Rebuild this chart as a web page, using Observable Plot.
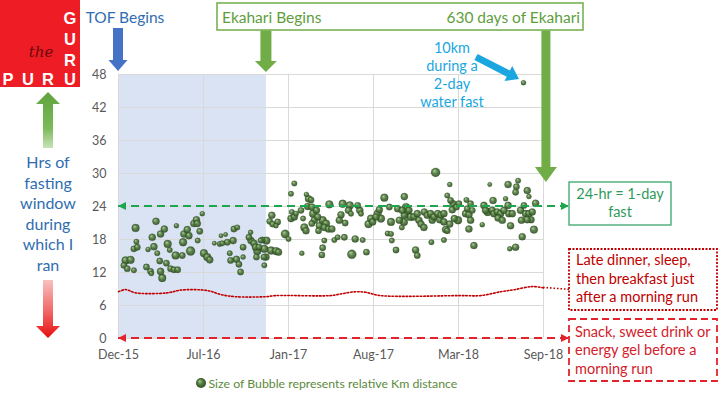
<!DOCTYPE html>
<html><head><meta charset="utf-8">
<script src="https://cdn.jsdelivr.net/npm/d3@7"></script>
<script src="https://cdn.jsdelivr.net/npm/@observablehq/plot@0.6"></script>
<style>
body{margin:0;background:#fff;}
#chart{width:723px;height:396px;}
</style></head><body><div id="chart"></div>
<script>
// ---- data ----
const startDate = "2015-12-10";            // day 0 of runDay / baseDay
const tickDates = ["2015-12-10","2016-07-01","2017-01-21","2017-08-13","2018-03-05","2018-09-25"];
const yTicks = [0,6,12,18,24,30,36,42,48];
const tofBeginDate = "2015-12-10";
const ekahariBeginDate = "2016-11-29";
const ekahari630Date = "2018-10-02";

// runs: days since startDate, hours of fasting window, km (bubble size)
const runDay = [17,29,13,21,37,41,43,37,45,67,77,79,71,81,85,90,101,93,99,101,105,110,118,123,115,125,133,142,139,137,157,155,153,165,169,173,181,187,189,195,190,201,205,213,219,230,243,246,257,249,261,269,267,275,277,285,283,289,293,299,299,317,313,318,325,329,333,337,341,331,349,350,345,355,
350,354,366,378,384,368,363,370,382,378,400,408,414,422,422,414,416,426,440,438,443,446,450,451,456,462,454,464,467,470,464,475,478,482,480,490,494,498,506,504,512,494,490,488,518,526,530,534,538,544,542,555,552,558,574,579,582,560,568,586,595,600,606,610,622,626,630,618,638,650,646,654,656,654,666,670,674,680,686,690,686,
761,681,693,697,701,685,709,717,721,726,733,734,741,749,753,757,766,771,774,781,781,785,789,795,797,803,801,806,795,815,789,781,751,713,717,811,817,835,837,833,841,845,849,845,841,853,873,877,881,886,891,899,897,901,909,917,911,921,925,929,935,941,937,935,945,955,959,953,965,967,969,953,939,973,981,985,977,985,990,981,993,1001,997,972];
const runHours = [14.2,14.3,13.3,12.7,12.4,20.1,17.6,16.3,16.6,13.0,12.2,11.8,16.2,18.4,16.7,21.3,19.0,15.5,14.1,12.2,11.0,19.9,17.2,16.1,13.7,12.7,12.5,12.5,20.5,15.1,19.0,17.5,15.1,19.8,18.7,15.9,20.9,21.6,20.9,19.5,17.8,22.7,15.5,14.8,14.3,17.3,17.2,18.7,18.9,17.3,17.5,14.2,15.5,17.8,19.9,20.2,14.4,13.5,12.1,16.6,14.8,19.3,18.4,17.8,17.3,16.6,15.9,16.6,17.8,14.8,14.8,13.3,17.9,17.8,
16.3,14.8,16.0,15.9,15.7,22.4,21.3,20.8,21.2,20.5,19.0,18.1,21.8,22.1,28.2,26.3,23.0,22.7,15.5,23.3,21.8,20.2,19.6,26.2,25.4,25.2,24.0,23.9,22.7,21.5,20.9,23.3,22.1,20.5,19.6,21.5,20.2,20.9,24.4,19.9,19.9,17.8,16.5,15.2,17.9,18.4,21.5,22.5,24.5,21.0,18.4,24.2,23.3,22.7,24.2,23.3,22.7,15.3,18.1,17.9,15.7,20.8,21.8,21.2,22.7,23.4,21.8,22.1,25.6,23.9,19.1,19.0,17.8,21.2,16.1,23.6,21.5,20.2,25.8,23.9,22.4,
30.2,23.3,22.7,23.3,22.1,21.2,22.1,22.7,21.5,20.8,20.2,23.0,22.4,22.7,21.5,22.1,22.7,21.6,22.4,22.7,21.2,19.8,26.0,28.0,25.1,24.5,23.4,21.8,20.8,21.5,19.6,17.9,17.5,16.1,15.1,23.9,24.5,25.2,23.6,22.7,22.5,24.5,23.3,21.5,19.9,16.9,20.7,24.2,23.3,23.0,28.0,25.1,23.3,22.7,23.0,22.7,21.9,21.5,23.3,25.4,28.0,20.5,22.7,24.2,22.7,27.6,28.7,26.6,23.3,21.5,18.5,16.6,16.3,24.2,26.9,25.8,22.7,22.7,21.6,21.6,23.0,24.6,19.8,46.5];
const runKm = [12,12,8,8,6,12,6,8,8,8,8,5,5,10,10,10,10,6,8,10,12,10,12,6,8,8,8,8,5,12,10,12,8,10,10,16,10,10,10,8,6,5,12,12,10,4,6,4,4,6,8,8,6,10,8,6,10,8,8,8,5,5,8,10,10,10,12,8,6,8,8,6,8,12,
12,10,12,12,10,10,8,8,8,5,14,6,10,10,6,6,6,6,5,8,6,12,10,5,10,8,10,10,12,10,8,10,10,10,8,12,10,12,12,10,10,6,8,8,6,6,10,10,12,8,8,12,10,6,8,10,6,16,10,6,8,12,12,10,12,10,12,10,12,8,6,6,6,12,8,10,10,6,10,12,10,
16,10,12,10,12,12,10,10,10,10,10,10,10,10,10,10,10,10,10,10,10,10,6,5,8,10,10,10,10,12,8,6,6,10,8,8,8,6,8,10,10,8,8,10,10,10,5,10,10,12,4,10,10,10,10,10,10,10,10,5,10,10,10,10,10,8,6,8,10,10,10,10,5,8,10,5,10,10,10,10,10,10,12,5];

// dotted red baseline (late dinner -> breakfast after run)
const baseDay = [0,17,41,101,125,149,197,221,245,281,353,377,509,533,569,593,629,821,869,917,948,994,1020];
const baseHours = [8.5,8.9,8.3,8.2,8.4,8.8,8.85,8.6,8.0,7.6,7.6,7.8,7.8,8.1,8.5,8.4,7.8,7.8,7.8,8.5,8.85,9.45,9.2];

// ---- build ----
const parse = d3.utcParse("%Y-%m-%d");
const t0 = parse(startDate);
const dayToDate = d => d3.utcDay.offset(t0, d);
const runs = runDay.map((d, i) => ({date: dayToDate(d), hours: runHours[i], km: runKm[i]}));
const base = baseDay.map((d, i) => ({date: dayToDate(d), hours: baseHours[i]}));

const chart = Plot.plot({
  width: 723, height: 396,
  marginLeft: 118, marginRight: 180, marginTop: 74, marginBottom: 58,
  style: {fontFamily: "Lato, sans-serif", fontSize: "12.5px", color: "#595959", background: "#fff", overflow: "visible"},
  x: {type: "utc", domain: [parse(tickDates[0]), parse(tickDates[tickDates.length-1])], ticks: tickDates.map(parse),
      tickFormat: d3.utcFormat("%b-%y"), label: null, tickSize: 0, tickPadding: 12},
  y: {domain: [0, 48], ticks: yTicks, label: null, tickSize: 0, tickPadding: 12},
  r: {type: "sqrt", domain: [0, 16], range: [0, 4.5]},
  marks: [
    Plot.rect([{a: parse(tofBeginDate), b: parse(ekahariBeginDate)}], {x1: "a", x2: "b", y1: 0, y2: 48, fill: "#dae3f3"}),
    Plot.gridY(yTicks, {stroke: "#d9d9d9", strokeOpacity: 1}),
    Plot.gridX(tickDates.map(parse), {stroke: "#d9d9d9", strokeOpacity: 1}),
    Plot.line(base, {x: "date", y: "hours", stroke: "#c00000", strokeWidth: 1.6, strokeDasharray: "1.6,1.9", curve: "catmull-rom"}),
    Plot.dot(runs, {x: "date", y: "hours", r: "km", fill: "url(#bubble)", fillOpacity: 0.92, stroke: "#2f4f25", strokeWidth: 0.4, strokeOpacity: 0.6})
  ]
});
document.getElementById("chart").append(chart);

// ---- overlay annotations ----
const svg = d3.select(chart);
const X = d => chart.scale("x").apply(d);
const Y = v => chart.scale("y").apply(v);
const defs = svg.insert("defs", ":first-child");
const rg = defs.append("radialGradient").attr("id", "bubble").attr("cx", "50%").attr("cy", "50%").attr("r", "55%").attr("fx", "35%").attr("fy", "30%");
rg.append("stop").attr("offset", "0%").attr("stop-color", "#a9cb94");
rg.append("stop").attr("offset", "45%").attr("stop-color", "#567f42");
rg.append("stop").attr("offset", "100%").attr("stop-color", "#2a4720");
const gUp = defs.append("linearGradient").attr("id", "gUp").attr("x1", 0).attr("y1", 0).attr("x2", 0).attr("y2", 1);
gUp.append("stop").attr("offset", "0%").attr("stop-color", "#5fa33d");
gUp.append("stop").attr("offset", "65%").attr("stop-color", "#7cb95a");
gUp.append("stop").attr("offset", "100%").attr("stop-color", "#c9e3b8");
const rDown = defs.append("linearGradient").attr("id", "rDown").attr("x1", 0).attr("y1", 0).attr("x2", 0).attr("y2", 1);
rDown.append("stop").attr("offset", "0%").attr("stop-color", "#f9c0c0");
rDown.append("stop").attr("offset", "55%").attr("stop-color", "#f06565");
rDown.append("stop").attr("offset", "100%").attr("stop-color", "#e80e0e");
function marker(id, color) {
  defs.append("marker").attr("id", id).attr("viewBox", "0 0 10 10").attr("refX", 10).attr("refY", 5)
    .attr("markerWidth", 9).attr("markerHeight", 8).attr("markerUnits", "userSpaceOnUse").attr("orient", "auto-start-reverse")
    .append("path").attr("d", "M0,0L10,5L0,10z").attr("fill", color);
}
marker("mGreen", "#1ea64f");
marker("mRed", "#e3232b");

const g = svg.append("g");
function vArrow(cx, y0, y1, sw, hw, hl, fill) {
  const dir = y1 > y0 ? 1 : -1, yh = y1 - dir * hl;
  const pts = [[cx - sw/2, y0], [cx + sw/2, y0], [cx + sw/2, yh], [cx + hw/2, yh], [cx, y1], [cx - hw/2, yh], [cx - sw/2, yh]];
  g.append("polygon").attr("points", pts.map(p => p.join(",")).join(" ")).attr("fill", fill);
}
function dArrow(x0, y0, x1, y1, sw, hw, hl, fill) {
  const L = Math.hypot(x1 - x0, y1 - y0), ang = Math.atan2(y1 - y0, x1 - x0) * 180 / Math.PI;
  const pts = [[0, -sw/2], [L - hl, -sw/2], [L - hl, -hw/2], [L, 0], [L - hl, hw/2], [L - hl, sw/2], [0, sw/2]];
  g.append("polygon").attr("points", pts.map(p => p.join(",")).join(" "))
    .attr("transform", `translate(${x0},${y0}) rotate(${ang})`).attr("fill", fill);
}
function txt(x, y, s, o = {}) {
  return g.append("text").attr("x", x).attr("y", y).text(s)
    .attr("font-family", o.font || "Lato, sans-serif").attr("font-size", o.size || 15)
    .attr("fill", o.color || "#000").attr("text-anchor", o.anchor || "start")
    .attr("font-weight", o.weight || "normal").attr("font-style", o.style || "normal");
}

const xL = X(parse(tickDates[0]));
const boxX = 569;

// dashed reference arrows
g.append("line").attr("x1", xL).attr("x2", boxX).attr("y1", Y(24)).attr("y2", Y(24))
  .attr("stroke", "#1ea64f").attr("stroke-width", 2).attr("stroke-dasharray", "8,5")
  .attr("marker-start", "url(#mGreen)").attr("marker-end", "url(#mGreen)");
g.append("line").attr("x1", xL).attr("x2", boxX).attr("y1", Y(0)).attr("y2", Y(0))
  .attr("stroke", "#e3232b").attr("stroke-width", 2).attr("stroke-dasharray", "8,5")
  .attr("marker-start", "url(#mRed)").attr("marker-end", "url(#mRed)");
// dotted connector from the baseline curve to its note
const lastBase = base[base.length - 1];
g.append("line").attr("x1", X(lastBase.date)).attr("y1", Y(lastBase.hours)).attr("x2", boxX).attr("y2", Y(8.85))
  .attr("stroke", "#c00000").attr("stroke-width", 1.6).attr("stroke-dasharray", "1.6,1.9");

// logo
g.append("rect").attr("x", 0).attr("y", 0).attr("width", 80).attr("height", 87).attr("fill", "#ee1c25");
const logoFont = {font: "Liberation Sans, Arial, sans-serif", size: 16.5, weight: "bold", color: "#fff", anchor: "middle"};
[["G", 24], ["U", 45], ["R", 65.5]].forEach(([c, y]) => txt(70, y, c, logoFont));
[["P", 8], ["U", 28], ["R", 48], ["U", 70]].forEach(([c, x]) => txt(x, 85, c, logoFont));
txt(41, 57, "the", {font: "DejaVu Serif, serif", size: 15, style: "italic", color: "#6b0a0a", anchor: "middle"});

// TOF begins
txt(125, 23, "TOF Begins", {size: 15.5, color: "#2f6db0", anchor: "middle"});
vArrow(X(parse(tofBeginDate)), 28, 71, 10, 19, 11, "#4472c4");

// Ekahari box
g.append("rect").attr("x", 217).attr("y", 3).attr("width", 366).attr("height", 27)
  .attr("fill", "#fff").attr("stroke", "#70ad47").attr("stroke-width", 1.5);
txt(222, 23, "Ekahari Begins", {size: 15.5, color: "#5e9e3c"});
txt(580, 23, "630 days of Ekahari", {size: 15.5, color: "#5e9e3c", anchor: "end"});
vArrow(X(parse(ekahariBeginDate)), 30.5, 72, 11, 22, 11, "#70ad47");
vArrow(X(parse(ekahari630Date)), 30.5, 182, 9, 22, 15, "#70ad47");

// water fast note
[["10km", 53], ["during a", 71], ["2-day", 89], ["water fast", 107]].forEach(([s, y]) =>
  txt(452, y, s, {size: 14.5, color: "#1aa7e0", anchor: "middle"}));
dArrow(476, 57, 519, 79, 7, 17, 12, "#1aa7e0");

// left axis description
vArrow(48, 148, 92, 10, 24, 12, "url(#gUp)");
["Hrs of", "fasting", "window", "during", "which I", "ran"].forEach((s, i) =>
  txt(48, 168 + i * 20.6, s, {size: 16, color: "#2f6db0", anchor: "middle"}));
vArrow(48, 280, 338, 10, 24, 12, "url(#rDown)");

// right notes
g.append("rect").attr("x", 569).attr("y", 182).attr("width", 102).attr("height", 43)
  .attr("fill", "#fff").attr("stroke", "#3aa56b").attr("stroke-width", 1.3);
txt(620, 199, "24-hr = 1-day", {size: 14.5, color: "#2e9b5a", anchor: "middle"});
txt(620, 217, "fast", {size: 14.5, color: "#2e9b5a", anchor: "middle"});

g.append("rect").attr("x", 569).attr("y", 249).attr("width", 148).attr("height", 61)
  .attr("fill", "#fff").attr("stroke", "#c00000").attr("stroke-width", 1.8).attr("stroke-dasharray", "2,1.5");
["Late dinner, sleep,", "then breakfast just", "after a morning run"].forEach((s, i) =>
  txt(576, 265 + i * 18.5, s, {size: 14.5, color: "#c00000"}));

g.append("rect").attr("x", 569).attr("y", 319).attr("width", 148).attr("height", 62)
  .attr("fill", "#fff").attr("stroke", "#e3232b").attr("stroke-width", 1.8).attr("stroke-dasharray", "7,4");
["Snack, sweet drink or", "energy gel before a", "morning run"].forEach((s, i) =>
  txt(575, 337 + i * 18.3, s, {size: 14.5, color: "#d3202a"}));

// bubble legend
g.append("circle").attr("cx", 201).attr("cy", 383).attr("r", 5).attr("fill", "url(#bubble)");
txt(208.5, 387.5, "Size of Bubble represents relative Km distance", {size: 12.3, color: "#5b8a3c"});
</script></body></html>
